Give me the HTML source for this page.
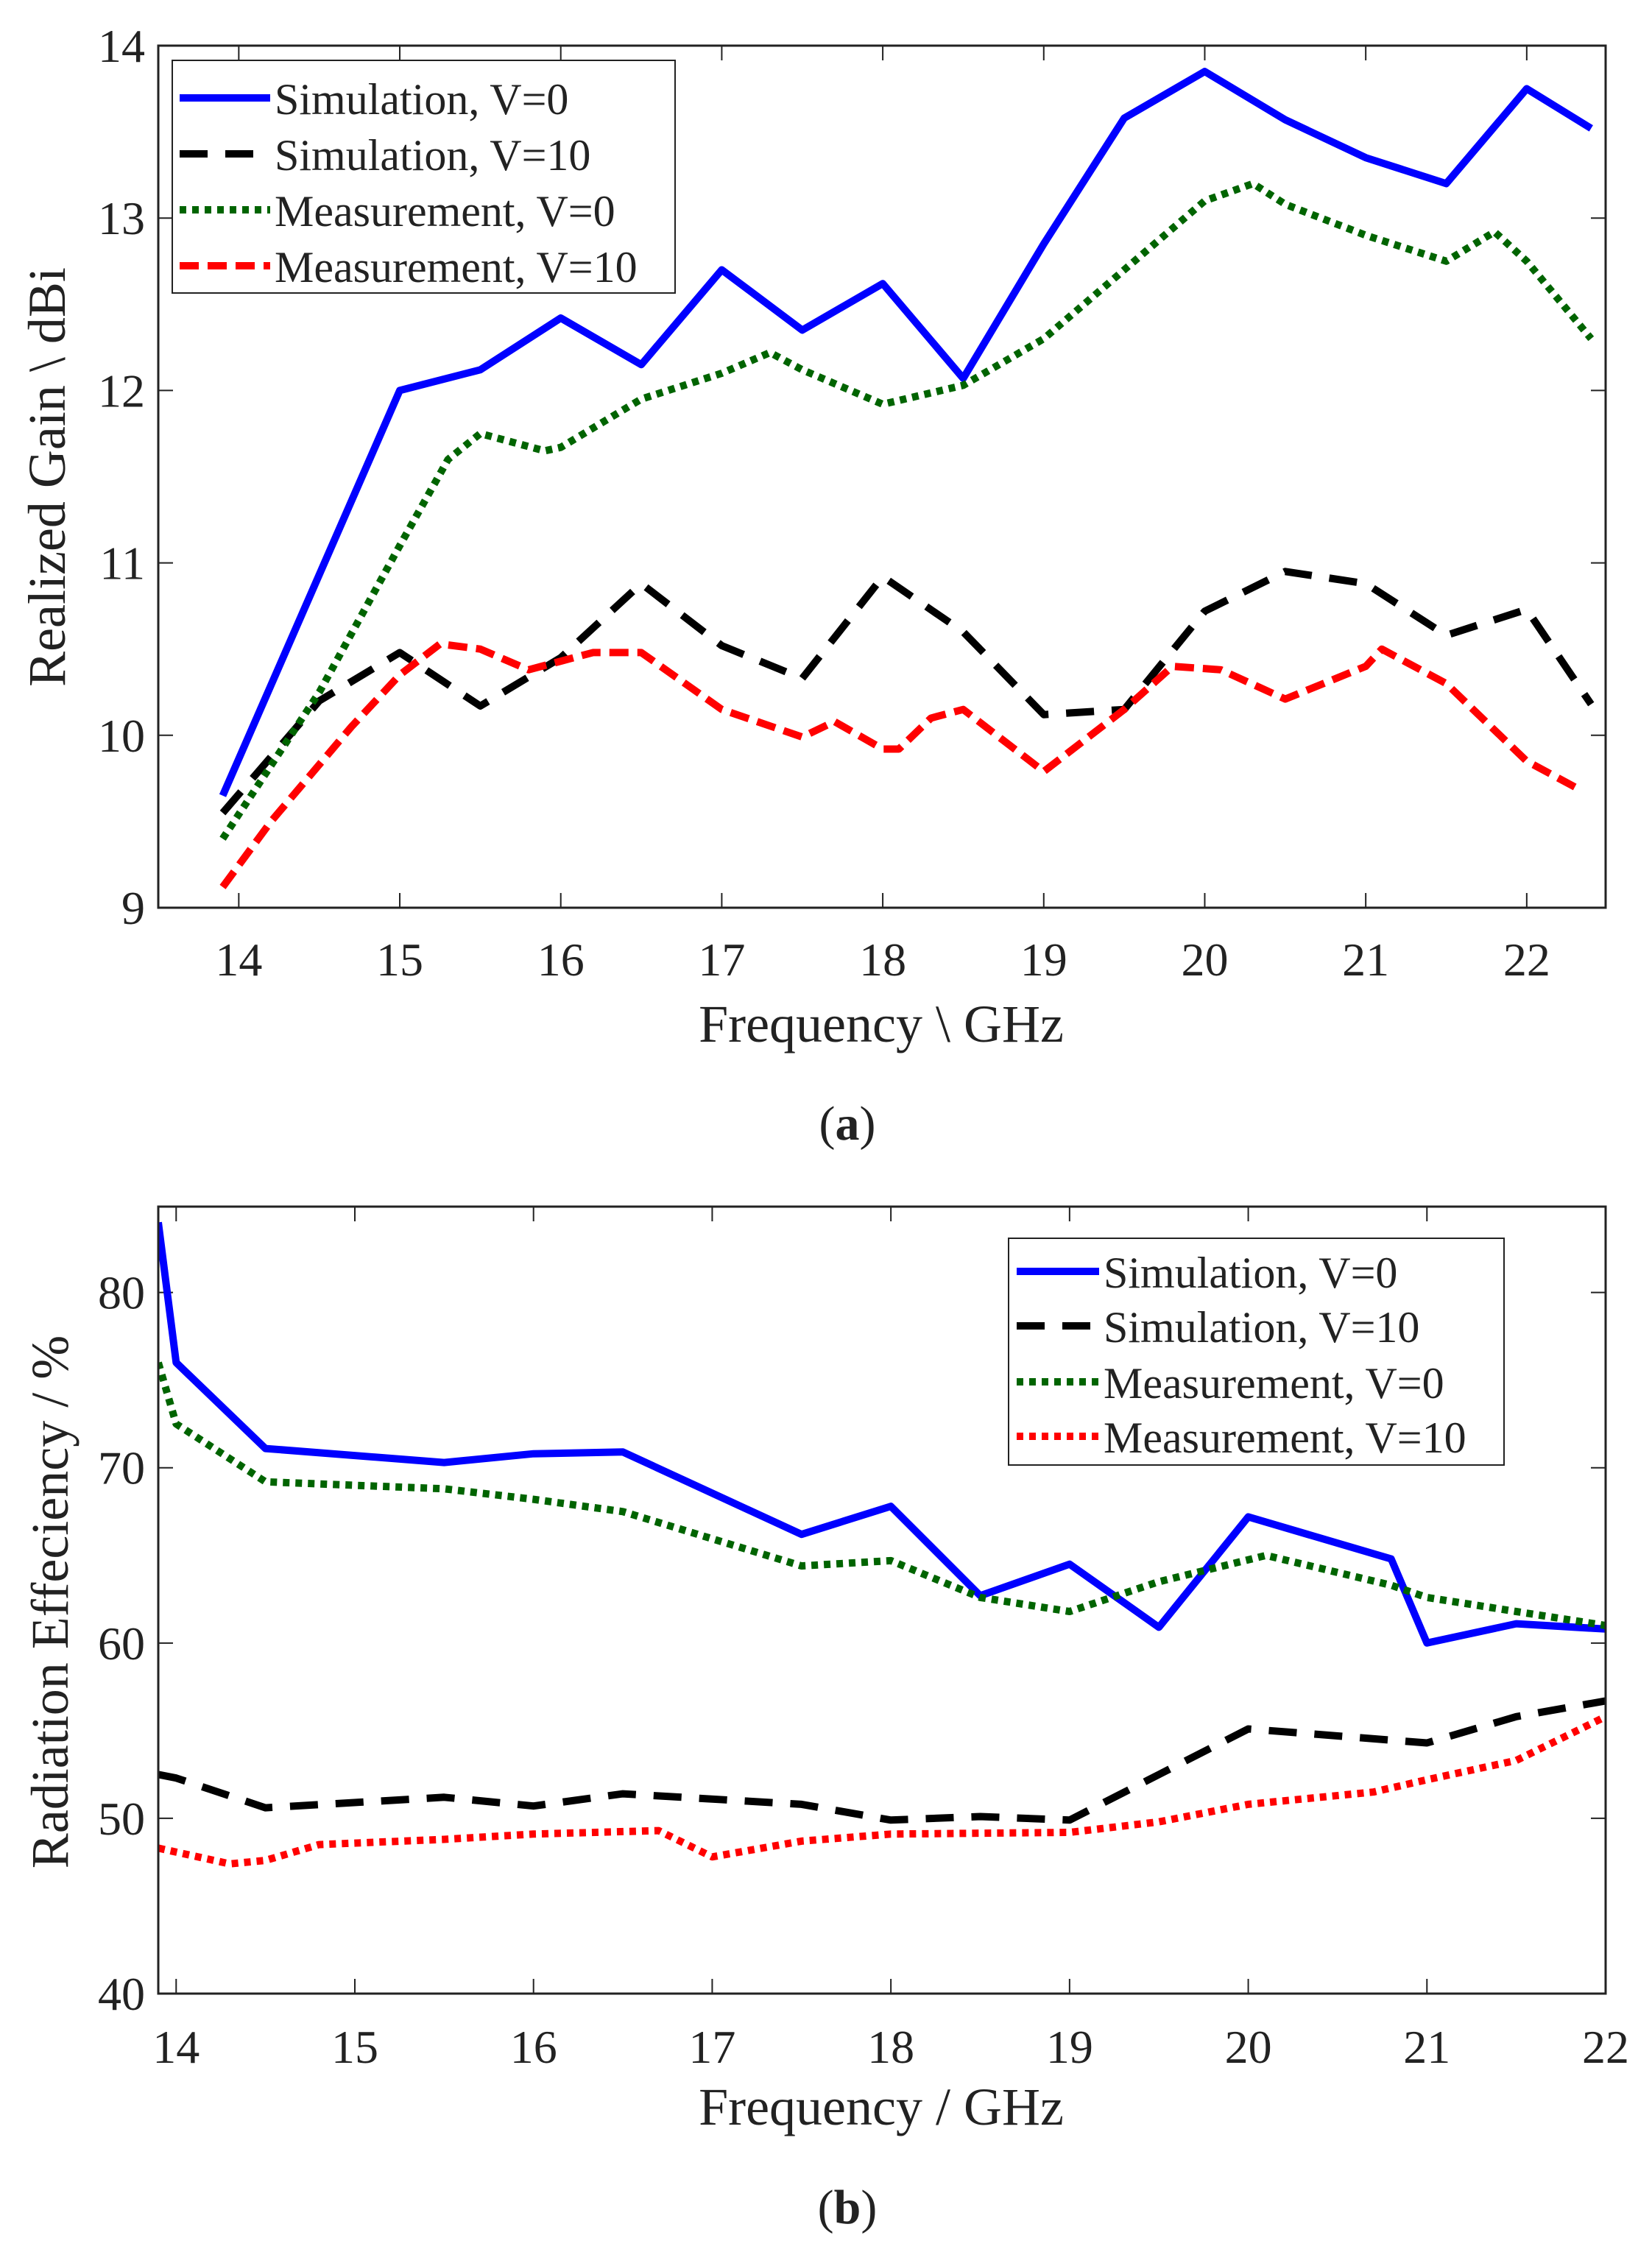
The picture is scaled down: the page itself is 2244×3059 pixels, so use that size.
<!DOCTYPE html>
<html><head><meta charset="utf-8"><style>
html,body{margin:0;padding:0;background:#fff}
svg{display:block}
text{font-family:"Liberation Serif","Times New Roman","DejaVu Serif",serif;fill:#222}
</style></head><body>
<svg id="s" width="2244" height="3059" viewBox="0 0 2244 3059" xmlns="http://www.w3.org/2000/svg"></svg>
<script>
// ---- Chart (a) data ----
const aXTicks=[14,15,16,17,18,19,20,21,22];
const aYTicks=[9,10,11,12,13,14];
const aSimV0X=[13.9,15,15.5,16,16.5,17,17.5,18,18.5,19,19.5,20,20.5,21,21.5,22,22.4];
const aSimV0Y=[9.65,12.0,12.12,12.42,12.15,12.7,12.35,12.62,12.07,12.85,13.58,13.85,13.57,13.35,13.2,13.75,13.52];
const aSimV10X=[13.9,14.5,15,15.5,16,16.5,17,17.5,18,18.5,19,19.5,20,20.5,21,21.5,22,22.4];
const aSimV10Y=[9.55,10.2,10.48,10.17,10.45,10.88,10.52,10.33,10.92,10.6,10.12,10.15,10.72,10.95,10.88,10.58,10.73,10.18];
const aMeasV0X=[13.9,14.5,15,15.3,15.5,15.9,16,16.5,17,17.3,17.5,18,18.5,19,19.5,20,20.3,20.5,21,21.5,21.8,22,22.4];
const aMeasV0Y=[9.4,10.25,11.1,11.6,11.75,11.65,11.67,11.95,12.1,12.22,12.12,11.92,12.03,12.3,12.7,13.1,13.2,13.08,12.9,12.75,12.92,12.75,12.3];
const aMeasV10X=[13.9,14.2,14.7,15,15.25,15.5,15.8,16.2,16.5,17,17.5,17.7,18,18.1,18.3,18.5,19,19.5,19.8,20.1,20.5,21,21.1,21.5,22,22.3];
const aMeasV10Y=[9.12,9.5,10.05,10.35,10.53,10.5,10.38,10.48,10.48,10.15,9.99,10.08,9.92,9.92,10.1,10.15,9.79,10.15,10.4,10.38,10.21,10.4,10.5,10.3,9.85,9.7];
// ---- Chart (b) data ----
const bXTicks=[14,15,16,17,18,19,20,21,22];
const bYTicks=[40,50,60,70,80];
const bSimV0X=[13.9,14,14.5,15.5,16,16.5,17.5,18,18.5,19,19.5,20,20.8,21,21.5,22];
const bSimV0Y=[84,76,71.1,70.3,70.8,70.9,66.2,67.8,62.7,64.5,60.9,67.2,64.8,60,61.1,60.8];
const bSimV10X=[13.9,14,14.5,15.5,16,16.5,17.5,18,18.5,19,19.5,20,21,21.5,22];
const bSimV10Y=[52.5,52.3,50.6,51.2,50.7,51.4,50.8,49.9,50.1,49.9,52.5,55.1,54.3,55.8,56.7];
const bMeasV0X=[13.9,14,14.5,15.5,16,16.5,17.5,18,18.5,19,19.5,20.1,20.8,21,21.5,22];
const bMeasV0Y=[76,72.5,69.2,68.8,68.2,67.5,64.4,64.7,62.6,61.8,63.5,65,63.3,62.6,61.8,61];
const bMeasV10X=[13.9,14.3,14.5,14.8,15.5,16,16.7,17,17.5,18,19,19.5,20,20.7,21,21.5,22];
const bMeasV10Y=[48.3,47.4,47.6,48.5,48.8,49.1,49.3,47.8,48.7,49.1,49.2,49.8,50.8,51.5,52.2,53.3,55.8];

const NS="http://www.w3.org/2000/svg";
const svg=document.getElementById('s');
function mk(tag,attrs,parent){const e=document.createElementNS(NS,tag);for(const k in attrs)e.setAttribute(k,attrs[k]);(parent||svg).appendChild(e);return e;}

const styles={
 simV0:{stroke:'#0000ff',dash:''},
 simV10:{stroke:'#000000',dash:'38,24'},
 measV0:{stroke:'#006400',dash:'9,8'},
 measV10a:{stroke:'#ff0000',dash:'26,12'},
 measV10b:{stroke:'#ff0000',dash:'9,8'}
};

function chart(cfg){
 const g=mk('g',{});
 
 
 const X=v=>cfg.L+(v-cfg.x0)/(cfg.x1-cfg.x0)*(cfg.R-cfg.L);
 const Y=v=>cfg.B-(v-cfg.y0)/(cfg.y1-cfg.y0)*(cfg.B-cfg.T);
 cfg.xt.forEach(t=>{
  const x=X(t);
  mk('line',{x1:x,x2:x,y1:cfg.B,y2:cfg.B-20,stroke:'#222','stroke-width':2},g);
  mk('line',{x1:x,x2:x,y1:cfg.T,y2:cfg.T+20,stroke:'#222','stroke-width':2},g);
  const tx=mk('text',{x:x,y:cfg.xLabY,'font-size':64,'text-anchor':'middle'},g);
  tx.textContent=t;
  
  
 });
 cfg.yt.forEach(t=>{
  const y=Y(t);
  mk('line',{x1:cfg.L,x2:cfg.L+20,y1:y,y2:y,stroke:'#222','stroke-width':2},g);
  mk('line',{x1:cfg.R,x2:cfg.R-20,y1:y,y2:y,stroke:'#222','stroke-width':2},g);
  const tx=mk('text',{x:cfg.L-18,y:y+22,'font-size':64,'text-anchor':'end'},g);
  tx.textContent=t;
  
  
 });
 const clip='clip-'+cfg.name;
 const cp=mk('clipPath',{id:clip},g);
 mk('rect',{x:cfg.L,y:cfg.T,width:cfg.R-cfg.L,height:cfg.B-cfg.T},cp);
 cfg.series.forEach(s=>{
  const pts=s.x.map((v,i)=>X(v).toFixed(1)+','+Y(s.y[i]).toFixed(1)).join(' ');
  const p=mk('polyline',{points:pts,fill:'none',stroke:s.st.stroke,'stroke-width':10,'stroke-dasharray':s.st.dash,'stroke-linejoin':'round','clip-path':'url(#'+clip+')'},g);
  
  
 });
 const frame=mk('rect',{x:cfg.L,y:cfg.T,width:cfg.R-cfg.L,height:cfg.B-cfg.T,fill:'none',stroke:'#222','stroke-width':3},g);
 
 
 const xt=mk('text',{x:cfg.xTitle[0],y:cfg.xTitle[1],'font-size':72,'text-anchor':'middle'},g);
 xt.textContent=cfg.xTitleText;
 
 
 const yt=mk('text',{x:0,y:0,'font-size':72,'text-anchor':'middle',transform:'translate('+cfg.yTitle[0]+','+cfg.yTitle[1]+') rotate(-90)'},g);
 yt.textContent=cfg.yTitleText;
 
 
 const lg=mk('g',{},g);
 
 
 const L=cfg.leg;
 mk('rect',{x:L.x,y:L.y,width:L.w,height:L.h,fill:'#fff',stroke:'#222','stroke-width':2},lg);
 cfg.series.forEach((s,i)=>{
  const y=L.rows[i];
  const e=mk('g',{},lg);
  
  
  mk('line',{x1:L.lx1,x2:L.lx2,y1:y,y2:y,stroke:s.st.stroke,'stroke-width':10,'stroke-dasharray':s.st.dash},e);
  const t=mk('text',{x:L.tx,y:y+22,'font-size':60},e);
  t.textContent=s.label;
 });
 const cap=mk('text',{x:cfg.cap[0],y:cfg.cap[1],'font-size':66,'text-anchor':'middle'},g);
 cap.innerHTML='(<tspan font-weight="bold">'+cfg.capLetter+'</tspan>)';
 
 
}

chart({name:'gain-chart',L:215,R:2181,T:62,B:1233,x0:13.5,x1:22.49,y0:9,y1:14,
 xt:aXTicks,yt:aYTicks,xLabY:1325,xTitle:[1197,1415],xTitleText:'Frequency \\ GHz',
 yTitle:[88,648],yTitleText:'Realized Gain \\ dBi',cap:[1151,1548],capLetter:'a',
 leg:{x:234,y:82,w:683,h:316,rows:[133,209,285,361],lx1:244,lx2:367,tx:373},
 series:[
  {name:'sim-v0-line',label:'Simulation, V=0',x:aSimV0X,y:aSimV0Y,st:styles.simV0},
  {name:'sim-v10-line',label:'Simulation, V=10',x:aSimV10X,y:aSimV10Y,st:styles.simV10},
  {name:'meas-v0-line',label:'Measurement, V=0',x:aMeasV0X,y:aMeasV0Y,st:styles.measV0},
  {name:'meas-v10-line',label:'Measurement, V=10',x:aMeasV10X,y:aMeasV10Y,st:styles.measV10a}
 ]});
chart({name:'efficiency-chart',L:215,R:2181,T:1639,B:2708,x0:13.9,x1:22,y0:40,y1:84.9,
 xt:bXTicks,yt:bYTicks,xLabY:2802,xTitle:[1197,2886],xTitleText:'Frequency / GHz',
 yTitle:[92,2176],yTitleText:'Radiation Effeciency / %',cap:[1151,3020],capLetter:'b',
 leg:{x:1370,y:1682,w:673,h:308,rows:[1727,1801,1877,1951],lx1:1381,lx2:1493,tx:1499},
 series:[
  {name:'sim-v0-line',label:'Simulation, V=0',x:bSimV0X,y:bSimV0Y,st:styles.simV0},
  {name:'sim-v10-line',label:'Simulation, V=10',x:bSimV10X,y:bSimV10Y,st:styles.simV10},
  {name:'meas-v0-line',label:'Measurement, V=0',x:bMeasV0X,y:bMeasV0Y,st:styles.measV0},
  {name:'meas-v10-line',label:'Measurement, V=10',x:bMeasV10X,y:bMeasV10Y,st:styles.measV10b}
 ]});
</script>
</body></html>
